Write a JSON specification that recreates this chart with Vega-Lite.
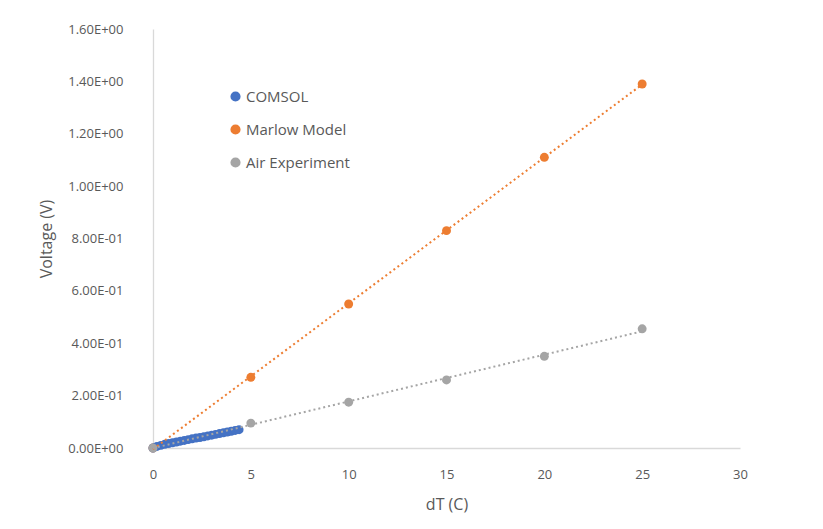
{
  "$schema": "https://vega.github.io/schema/vega-lite/v6.json",
  "width": 587,
  "height": 419,
  "autosize": {"type": "none"},
  "padding": {"left": 153, "top": 29, "right": 83, "bottom": 81},
  "background": "white",
  "config": {
    "view": {"stroke": null},
    "font": "Open Sans",
    "axis": {"labelColor": "#595959", "titleColor": "#595959", "labelFontSize": 13, "titleFontSize": 16, "titleFontWeight": "normal", "grid": false, "ticks": false, "labelFlush": false, "domainColor": "#d9d9d9", "domainWidth": 1.3}
  },
  "data": {
    "values": [
      {"series": "COMSOL", "x": 0.0, "y": 0.000},
      {"series": "COMSOL", "x": 0.2, "y": 0.006},
      {"series": "COMSOL", "x": 0.4, "y": 0.010},
      {"series": "COMSOL", "x": 0.6, "y": 0.014},
      {"series": "COMSOL", "x": 0.8, "y": 0.017},
      {"series": "COMSOL", "x": 1.0, "y": 0.020},
      {"series": "COMSOL", "x": 1.2, "y": 0.023},
      {"series": "COMSOL", "x": 1.4, "y": 0.026},
      {"series": "COMSOL", "x": 1.6, "y": 0.029},
      {"series": "COMSOL", "x": 1.8, "y": 0.032},
      {"series": "COMSOL", "x": 2.0, "y": 0.035},
      {"series": "COMSOL", "x": 2.2, "y": 0.038},
      {"series": "COMSOL", "x": 2.4, "y": 0.040},
      {"series": "COMSOL", "x": 2.6, "y": 0.043},
      {"series": "COMSOL", "x": 2.8, "y": 0.046},
      {"series": "COMSOL", "x": 3.0, "y": 0.049},
      {"series": "COMSOL", "x": 3.2, "y": 0.052},
      {"series": "COMSOL", "x": 3.4, "y": 0.055},
      {"series": "COMSOL", "x": 3.6, "y": 0.058},
      {"series": "COMSOL", "x": 3.8, "y": 0.061},
      {"series": "COMSOL", "x": 4.0, "y": 0.064},
      {"series": "COMSOL", "x": 4.2, "y": 0.067},
      {"series": "COMSOL", "x": 4.4, "y": 0.070},
      {"series": "Marlow Model", "x": 0, "y": 0.0},
      {"series": "Marlow Model", "x": 5, "y": 0.27},
      {"series": "Marlow Model", "x": 10, "y": 0.55},
      {"series": "Marlow Model", "x": 15, "y": 0.83},
      {"series": "Marlow Model", "x": 20, "y": 1.11},
      {"series": "Marlow Model", "x": 25, "y": 1.39},
      {"series": "Air Experiment", "x": 0, "y": 0.0},
      {"series": "Air Experiment", "x": 5, "y": 0.095},
      {"series": "Air Experiment", "x": 10, "y": 0.175},
      {"series": "Air Experiment", "x": 15, "y": 0.26},
      {"series": "Air Experiment", "x": 20, "y": 0.35},
      {"series": "Air Experiment", "x": 25, "y": 0.455}
    ]
  },
  "layer": [
    {
      "mark": {"type": "point", "shape": "circle", "filled": true, "opacity": 1, "size": 80},
      "encoding": {
        "x": {"field": "x", "type": "quantitative", "scale": {"domain": [0, 30]}, "axis": {"values": [0, 5, 10, 15, 20, 25, 30], "title": "dT (C)", "labelPadding": 20, "titlePadding": 15}},
        "y": {"field": "y", "type": "quantitative", "scale": {"domain": [0, 1.6]}, "axis": {"values": [0, 0.2, 0.4, 0.6, 0.8, 1.0, 1.2, 1.4, 1.6], "title": "Voltage (V)", "labelExpr": "replace(replace(format(datum.value, '.2e'), 'e+', 'E+0'), 'e-', 'E-0')", "labelPadding": 30, "titlePadding": 13}},
        "color": {
          "field": "series", "type": "nominal",
          "scale": {"domain": ["COMSOL", "Marlow Model", "Air Experiment"], "range": ["#4472C4", "#ED7D31", "#A5A5A5"]},
          "legend": {"title": null, "orient": "none", "legendX": 75, "legendY": 60, "symbolType": "circle", "symbolSize": 75, "labelFontSize": 15, "labelColor": "#595959", "rowPadding": 17, "labelOffset": 3}
        },
        "order": {"field": "series", "sort": "descending"}
      }
    },
    {
      "transform": [{"filter": "datum.series !== 'COMSOL'"}, {"regression": "y", "on": "x", "groupby": ["series"]}],
      "mark": {"type": "line", "strokeDash": [2, 3], "strokeWidth": 2},
      "encoding": {
        "x": {"field": "x", "type": "quantitative"},
        "y": {"field": "y", "type": "quantitative"},
        "stroke": {"field": "series", "type": "nominal", "scale": {"domain": ["COMSOL", "Marlow Model", "Air Experiment"], "range": ["#4472C4", "#ED7D31", "#A5A5A5"]}, "legend": null}
      }
    }
  ]
}
